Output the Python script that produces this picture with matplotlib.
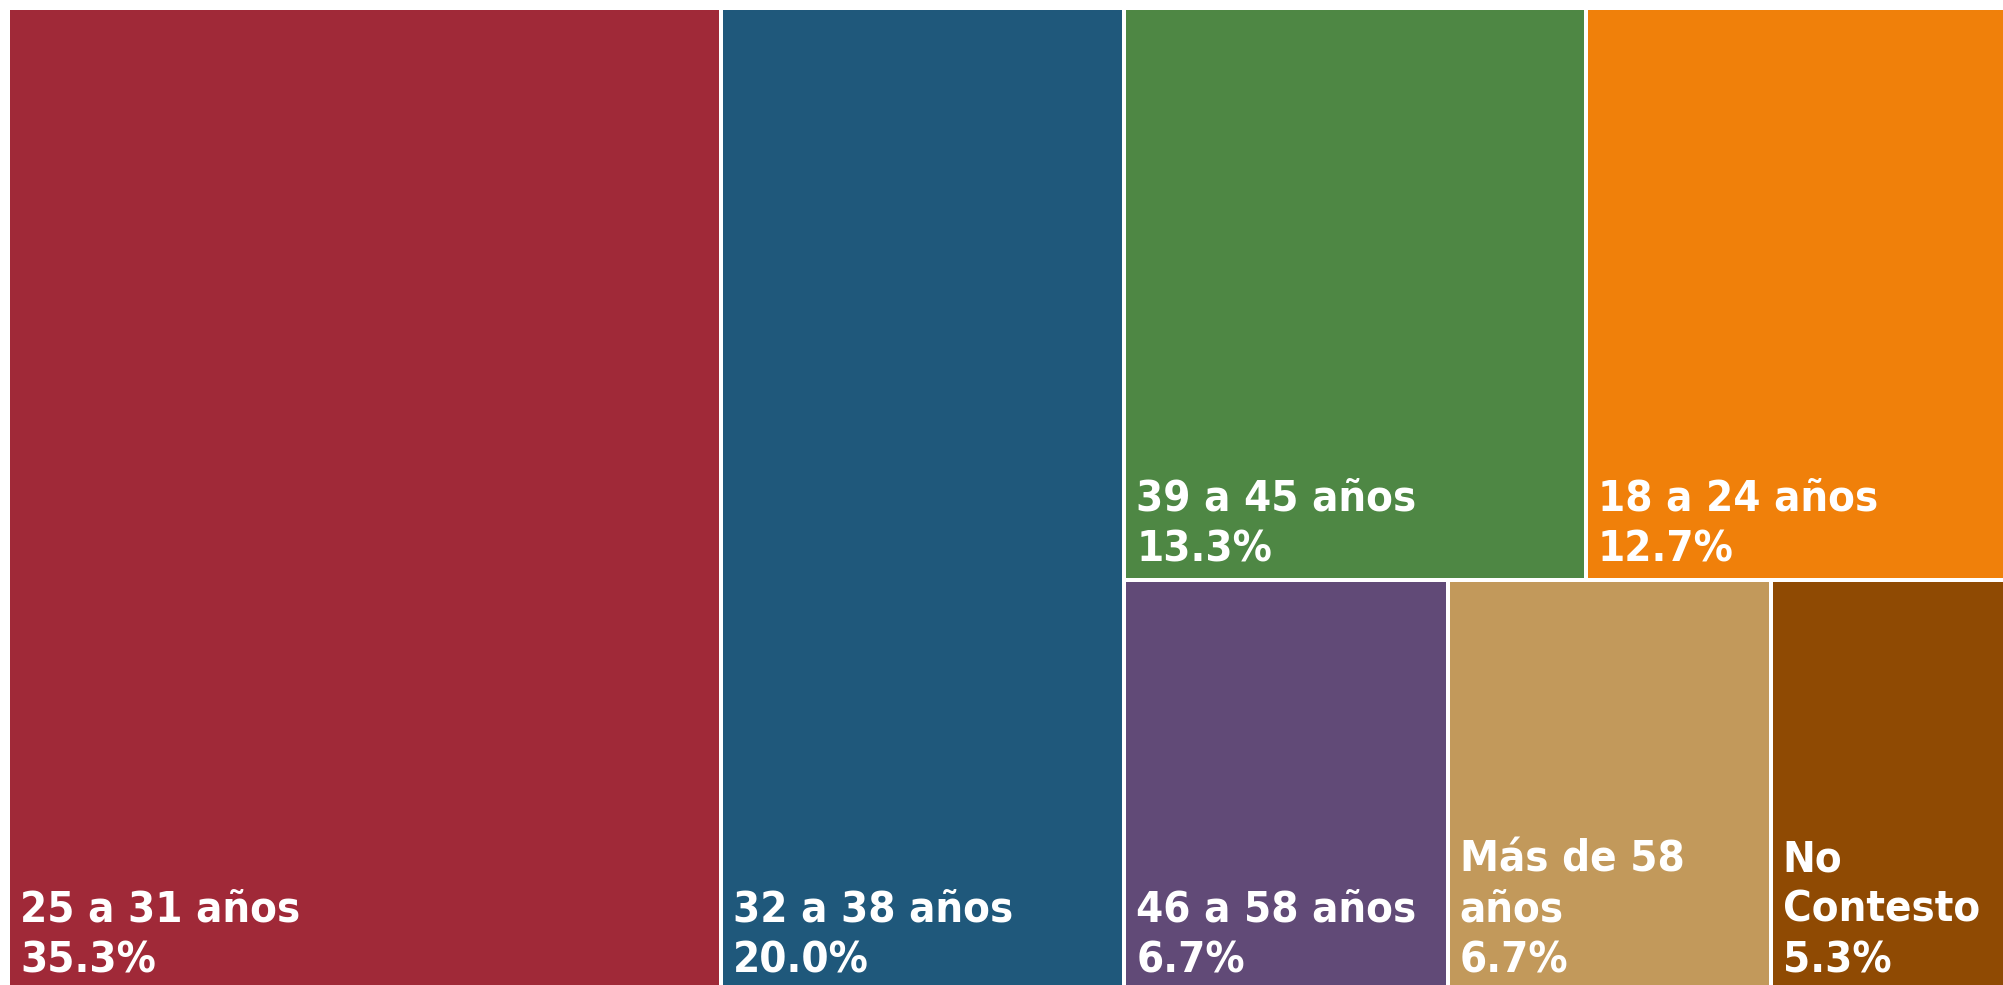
import os
import matplotlib
matplotlib.use('Agg')
import matplotlib.pyplot as plt
from matplotlib.patches import Rectangle
from matplotlib import font_manager as fm
from matplotlib.transforms import offset_copy

# ---------------- data ----------------
categories = ['25 a 31 años', '32 a 38 años', '39 a 45 años', '18 a 24 años',
              '46 a 58 años', 'Más de 58 años', 'No Contesto']
percentages = [35.3, 20.0, 13.3, 12.7, 6.7, 6.7, 5.3]
colors = ['#A02938', '#1F587B', '#4E8744', '#F0800A',
          '#614A77', '#C2995B', '#8F4A03']

# treemap structure: columns -> rows -> tiles (indices into the data)
structure = [[[0]], [[1]], [[2, 3], [4, 5, 6]]]

# ---------------- font ----------------
def pick_font():
    cands = []
    try:
        p = fm.findfont(fm.FontProperties(family='DejaVu Sans', weight='bold',
                                          stretch='condensed'),
                        fallback_to_default=False)
        if 'Condensed' in os.path.basename(p) and 'Bold' in os.path.basename(p):
            return fm.FontProperties(fname=p, size=31.3)
    except Exception:
        pass
    for f in fm.fontManager.ttflist:
        b = os.path.basename(f.fname)
        if b.startswith('DejaVuSansCondensed-Bold.'):
            return fm.FontProperties(fname=f.fname, size=31.3)
    return fm.FontProperties(family='Noto Sans', weight='bold', size=32)

fp = pick_font()

# ---------------- figure ----------------
W, H = 2003, 985
fig = plt.figure(figsize=(W / 100, H / 100), dpi=100)
left_px, top_px, right_px, bottom_px = 8, 8, 2026.5, 990.7
ax = fig.add_axes([left_px / W, 1 - bottom_px / H,
                   (right_px - left_px) / W, (bottom_px - top_px) / H])
ax.set_xlim(0, 1)
ax.set_ylim(1, 0)
ax.axis('off')

# compute rectangles from values
total = sum(percentages)
rects = {}
x = 0.0
for col in structure:
    col_sum = sum(percentages[i] for row in col for i in row)
    cw = col_sum / total
    y = 0.0
    for row in col:
        row_sum = sum(percentages[i] for i in row)
        rh = row_sum / col_sum
        xx = x
        for i in row:
            tw = cw * percentages[i] / row_sum
            rects[i] = (xx, y, tw, rh)
            xx += tw
        y += rh
    x += cw

renderer = fig.canvas.get_renderer()
px_per_x = (right_px - left_px)

def text_w(s):
    w, h, d = renderer.get_text_width_height_descent(s, fp, ismath=False)
    return w

def wrap(label, avail):
    words = label.split()
    lines, cur = [], ''
    for w_ in words:
        cand = (cur + ' ' + w_).strip()
        if cur and text_w(cand) > avail:
            lines.append(cur)
            cur = w_
        else:
            cur = cand
    if cur:
        lines.append(cur)
    return lines

pad_x, pad_bottom, line_step = 12, 18.5, 50.5
for i, (cat, val, col) in enumerate(zip(categories, percentages, colors)):
    rx, ry, rw, rh = rects[i]
    ax.add_patch(Rectangle((rx, ry), rw, rh, facecolor=col, edgecolor='white',
                           linewidth=2.88, clip_on=False))
    avail = rw * px_per_x - 2 * pad_x
    lines = wrap(cat, avail) + [f'{val:.1f}%']
    n = len(lines)
    for k, ln in enumerate(lines):
        off = pad_bottom + (n - 1 - k) * line_step
        tr = offset_copy(ax.transData, fig=fig, x=pad_x, y=off, units='dots')
        ax.text(rx, ry + rh, ln, transform=tr, color='white', fontproperties=fp,
                ha='left', va='baseline', clip_on=False)

fig.savefig('out.png', dpi=100)
